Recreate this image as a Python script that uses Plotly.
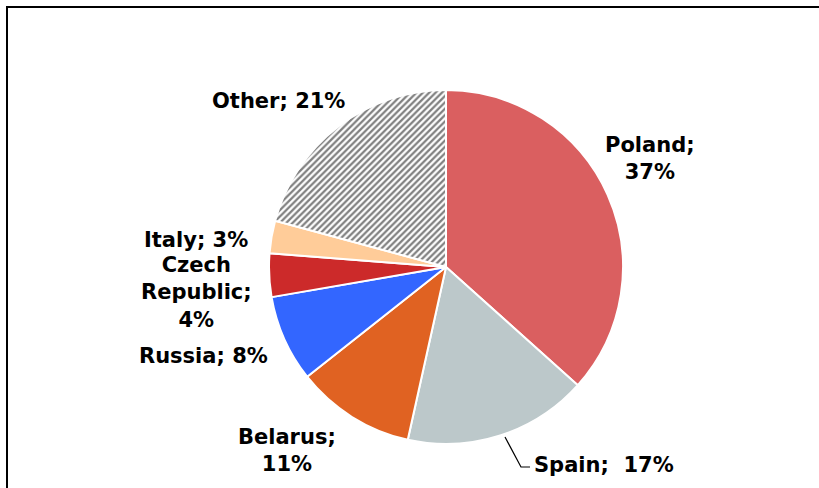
import plotly.graph_objects as go

# Share of slices, clockwise from 12 o'clock
countries = ["Poland", "Spain", "Belarus", "Russia", "Czech Republic", "Italy", "Other"]
shares = [37, 17, 11, 8, 4, 3, 21]
colors = ["#DA5F60", "#BCC8CA", "#E06222", "#3366FF", "#CC2A2A", "#FFCC99", "#FFFFFF"]
patterns = ["", "", "", "", "", "", "/"]

W, H = 819, 488

def px(x):
    return x / W

def py(y):
    return 1 - y / H

fig = go.Figure()

fig.add_trace(go.Pie(
    labels=countries,
    values=shares,
    sort=False,
    direction="clockwise",
    rotation=0,
    textinfo="none",
    hoverinfo="label+value",
    marker=dict(
        colors=colors,
        line=dict(color="white", width=2),
        pattern=dict(shape=patterns, fgcolor="#808080", bgcolor="white",
                     size=4.5, solidity=0.5, fillmode="replace"),
    ),
    domain=dict(x=[px(269), px(623)], y=[py(444), py(90)]),
    showlegend=False,
))

# label text blocks
label_text = {
    "Poland": f"Poland;<br>{shares[0]}%",
    "Spain": f"Spain;  {shares[1]}%",
    "Belarus": f"Belarus;<br>{shares[2]}%",
    "Russia": f"Russia; {shares[3]}%",
    "Czech Republic": f"Czech<br>Republic;<br>{shares[4]}%",
    "Italy": f"Italy; {shares[5]}%",
    "Other": f"Other; {shares[6]}%",
}
label_pos = {
    "Poland": (650, 158),
    "Spain": (604, 465),
    "Belarus": (287, 450),
    "Russia": (203, 356),
    "Czech Republic": (196, 292),
    "Italy": (196, 240),
    "Other": (278, 101),
}

for name in countries:
    x, y = label_pos[name]
    fig.add_annotation(
        x=px(x), y=py(y), xref="paper", yref="paper",
        text=label_text[name], showarrow=False,
        xanchor="center", yanchor="middle", align="center",
        font=dict(family="DejaVu Sans", size=21, color="black", weight="bold"),
    )

# leader line for Spain
fig.add_shape(type="path", xref="paper", yref="paper",
              path=f"M {px(505)},{py(437)} L {px(521)},{py(467)} L {px(530)},{py(467)}",
              line=dict(color="black", width=1.2))

# outer frame
fig.add_shape(type="rect", xref="paper", yref="paper",
              x0=px(7), y0=py(495), x1=px(830), y1=py(7),
              line=dict(color="black", width=2))

fig.update_layout(
    width=W, height=H,
    margin=dict(l=0, r=0, t=0, b=0),
    paper_bgcolor="white",
    plot_bgcolor="white",
)

fig.write_html("out.html", config={"displayModeBar": False},
               post_script="document.body.style.margin='0';")
